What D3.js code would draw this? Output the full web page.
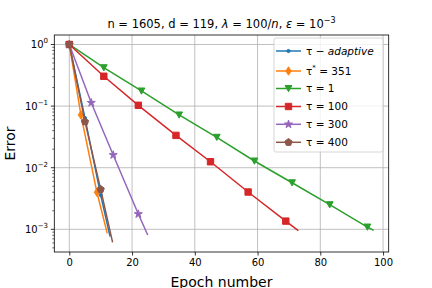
<!DOCTYPE html>
<html>
<head>
<meta charset="utf-8">
<script src="https://cdn.jsdelivr.net/npm/d3@7"></script>
<style>
  body { margin: 0; background: #fff; }
  svg { font-family: "DejaVu Sans", sans-serif; }
</style>
</head>
<body>
<script>
// values (epoch, error)
var adaptiveX = [0, 5, 10, 13];
var adaptiveY = [1, 0.064, 0.0036, 0.00076];

var starX = [0, 3.7, 8.8, 12.1];
var starY = [1, 0.072, 0.0040, 0.00086];

var tau1X = [0, 11, 23, 35, 47, 59, 71, 83, 95, 97];
var tau1Y = [1, 0.42, 0.176, 0.0718, 0.0312, 0.01285, 0.0057, 0.00251, 0.00109, 0.00096];

var tau100X = [0, 11, 22, 34, 45, 57, 69, 73];
var tau100Y = [1, 0.305, 0.103, 0.0335, 0.0125, 0.00403, 0.00136, 0.00095];

var tau300X = [0, 7, 14, 22, 25];
var tau300Y = [1, 0.1135, 0.0161, 0.00177, 0.00081];

var tau400X = [0, 5, 10, 13.8];
var tau400Y = [1, 0.0558, 0.00446, 0.000615];

var xTicks = [0, 20, 40, 60, 80, 100];
var yTicks = [1, 0.1, 0.01, 0.001];
var yTickExp = ["0", "\u22121", "\u22122", "\u22123"];

var colors = ["#1f77b4", "#ff7f0e", "#2ca02c", "#d62728", "#9467bd", "#8c564b"];
var markers = ["point", "thin_diamond", "tri_down", "square", "star", "pentagon"];

var series = [
  {x: adaptiveX, y: adaptiveY},
  {x: starX, y: starY},
  {x: tau1X, y: tau1Y},
  {x: tau100X, y: tau100Y},
  {x: tau300X, y: tau300Y},
  {x: tau400X, y: tau400Y}
];
series.forEach(function(s, i) { s.color = colors[i]; s.marker = markers[i]; });

var W = 432, H = 288;
var plot = {left: 54.3, right: 388.7, top: 35, bottom: 252};

var svg = d3.select("body").append("svg")
    .attr("width", W)
    .attr("height", H);

var x = d3.scaleLinear().domain([-4.78, 101.8]).range([plot.left, plot.right]);
var y = d3.scaleLog().domain([Math.pow(10, -3.368), Math.pow(10, 0.154)]).range([plot.bottom, plot.top]);

// grid
svg.append("g").selectAll("line")
    .data(xTicks)
    .enter().append("line")
    .attr("x1", function(d) { return x(d); })
    .attr("x2", function(d) { return x(d); })
    .attr("y1", plot.top)
    .attr("y2", plot.bottom)
    .attr("stroke", "#b0b0b0")
    .attr("stroke-width", 0.8);

svg.append("g").selectAll("line")
    .data(yTicks)
    .enter().append("line")
    .attr("x1", plot.left)
    .attr("x2", plot.right)
    .attr("y1", function(d) { return y(d); })
    .attr("y2", function(d) { return y(d); })
    .attr("stroke", "#b0b0b0")
    .attr("stroke-width", 0.8);

// marker shapes
function markerPath(type) {
  if (type == "point") return d3.symbol(d3.symbolCircle, 8)();
  if (type == "thin_diamond") return "M0,-4.2L2.6,0L0,4.2L-2.6,0Z";
  if (type == "tri_down") return "M0,3.2L-3.4,-3L3.4,-3Z";
  if (type == "square") return "M-3.2,-3.2H3.2V3.2H-3.2Z";
  if (type == "star") return d3.symbol(d3.symbolStar, 20)();
  if (type == "pentagon") {
    var pts = [];
    for (var k = 0; k < 5; k++) {
      var a = -Math.PI / 2 + k * 2 * Math.PI / 5;
      pts.push([3.8 * Math.cos(a), 3.8 * Math.sin(a)]);
    }
    return "M" + pts.join("L") + "Z";
  }
}

var line = d3.line()
    .x(function(d) { return x(d[0]); })
    .y(function(d) { return y(d[1]); });

svg.append("clipPath").attr("id", "clip")
  .append("rect")
    .attr("x", plot.left).attr("y", plot.top)
    .attr("width", plot.right - plot.left)
    .attr("height", plot.bottom - plot.top);

var lines = svg.append("g").attr("clip-path", "url(#clip)");

// marker on every point except the line end
series.forEach(function(s) {
  var pts = s.x.map(function(v, i) { return [v, s.y[i]]; });
  var g = lines.append("g");
  g.append("path")
      .attr("d", line(pts))
      .attr("fill", "none")
      .attr("stroke", s.color)
      .attr("stroke-width", 1.5);
  g.selectAll("path.m")
      .data(pts.slice(0, pts.length - 1))
      .enter().append("path")
      .attr("class", "m")
      .attr("d", markerPath(s.marker))
      .attr("transform", function(d) { return "translate(" + x(d[0]) + "," + y(d[1]) + ")"; })
      .attr("fill", s.color)
      .attr("stroke", s.color)
      .attr("stroke-width", 1);
});

// x axis
var xAxis = svg.append("g")
    .attr("transform", "translate(0," + plot.bottom + ")")
    .call(d3.axisBottom(x).tickValues(xTicks).tickSize(3.5).tickPadding(3.5).tickFormat(d3.format("d")));
xAxis.select(".domain").remove();
xAxis.selectAll("line").attr("stroke-width", 0.8);
xAxis.selectAll("text").attr("font-size", 10).attr("font-family", "DejaVu Sans").attr("fill", "#000");

// y axis with minor ticks
var minor = [];
for (var e = -4; e <= 0; e++) {
  for (var m = 2; m <= 9; m++) {
    var v = m * Math.pow(10, e);
    if (v > y.domain()[0] && v < y.domain()[1]) minor.push(v);
  }
}
svg.append("g").selectAll("line")
    .data(minor)
    .enter().append("line")
    .attr("x1", plot.left - 2)
    .attr("x2", plot.left)
    .attr("y1", function(d) { return y(d); })
    .attr("y2", function(d) { return y(d); })
    .attr("stroke", "#000")
    .attr("stroke-width", 0.6);

var yAxis = svg.append("g");
yAxis.selectAll("line")
    .data(yTicks)
    .enter().append("line")
    .attr("x1", plot.left - 3.5)
    .attr("x2", plot.left)
    .attr("y1", function(d) { return y(d); })
    .attr("y2", function(d) { return y(d); })
    .attr("stroke", "#000")
    .attr("stroke-width", 0.8);

var yLabels = yAxis.selectAll("text")
    .data(yTicks)
    .enter().append("text")
    .attr("x", 48)
    .attr("y", function(d) { return y(d) + 4; })
    .attr("text-anchor", "end")
    .attr("font-size", 10);
yLabels.append("tspan").text("10");
yLabels.append("tspan")
    .attr("dy", -5)
    .attr("font-size", 7)
    .text(function(d, i) { return yTickExp[i]; });

// frame
svg.append("rect")
    .attr("x", plot.left).attr("y", plot.top)
    .attr("width", plot.right - plot.left)
    .attr("height", plot.bottom - plot.top)
    .attr("fill", "none")
    .attr("stroke", "#000")
    .attr("stroke-width", 0.8);

// axis labels
svg.append("text")
    .attr("x", (plot.left + plot.right) / 2)
    .attr("y", 287)
    .attr("text-anchor", "middle")
    .attr("font-size", 14)
    .text("Epoch number");

svg.append("text")
    .attr("transform", "translate(15," + ((plot.top + plot.bottom) / 2) + ") rotate(-90)")
    .attr("text-anchor", "middle")
    .attr("font-size", 14)
    .text("Error");

// title
var title = svg.append("text")
    .attr("x", (plot.left + plot.right) / 2)
    .attr("y", 27.5)
    .attr("text-anchor", "middle")
    .attr("font-size", 11.5);
title.append("tspan").text("n = 1605, d = 119, ");
title.append("tspan").attr("font-style", "italic").text("\u03bb");
title.append("tspan").text(" = 100/");
title.append("tspan").attr("font-style", "italic").text("n");
title.append("tspan").text(",  ");
title.append("tspan").attr("font-style", "italic").text("\u03b5");
title.append("tspan").text(" = 10");
title.append("tspan").attr("dy", -5).attr("font-size", 8).text("\u22123");

// legend
var legend = svg.append("g");
legend.append("rect")
    .attr("x", 274).attr("y", 38)
    .attr("width", 109).attr("height", 114)
    .attr("rx", 2)
    .attr("fill", "#fff")
    .attr("fill-opacity", 0.8)
    .attr("stroke", "#cccccc")
    .attr("stroke-width", 0.8);

var rowY = [51, 71, 88.5, 106.5, 124.3, 142.3];
series.forEach(function(s, i) {
  var g = legend.append("g").attr("transform", "translate(0," + rowY[i] + ")");
  g.append("line")
      .attr("x1", 276).attr("x2", 301)
      .attr("stroke", s.color)
      .attr("stroke-width", 1.5);
  g.append("path")
      .attr("d", markerPath(s.marker))
      .attr("transform", "translate(288.5,0)")
      .attr("fill", s.color)
      .attr("stroke", s.color)
      .attr("stroke-width", 1);
  var t = g.append("text")
      .attr("x", 306)
      .attr("y", 3.8)
      .attr("font-size", 10.5);
  if (i == 0) {
    t.append("tspan").text("\u03c4 \u2212 ");
    t.append("tspan").attr("font-style", "italic").text("adaptive");
  } else if (i == 1) {
    t.append("tspan").text("\u03c4");
    t.append("tspan").attr("dy", -5).attr("font-size", 7).text("*");
    t.append("tspan").attr("dy", 5).text(" = 351");
  } else {
    var lab = ["", "", "1", "100", "300", "400"];
    t.text("\u03c4 = " + lab[i]);
  }
});
</script>
</body>
</html>
